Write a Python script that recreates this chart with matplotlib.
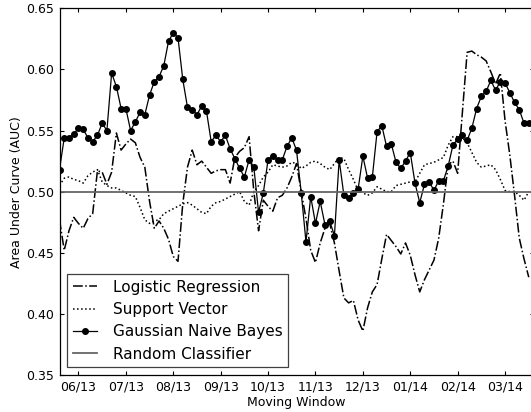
import numpy as np
import matplotlib
matplotlib.use('Agg')
import matplotlib.pyplot as plt

months = ['06/13', '07/13', '08/13', '09/13', '10/13', '11/13',
          '12/13', '01/14', '02/14', '03/14']
month_pos = [4, 14, 24, 34, 44, 54, 64, 74, 84, 94]

logistic = [0.477, 0.452, 0.468, 0.479, 0.474, 0.470, 0.478, 0.482, 0.517, 0.516,
            0.506, 0.516, 0.548, 0.534, 0.539, 0.543, 0.540, 0.528, 0.520, 0.492,
            0.470, 0.476, 0.470, 0.461, 0.447, 0.443, 0.490, 0.520, 0.534, 0.522,
            0.525, 0.520, 0.515, 0.517, 0.518, 0.518, 0.507, 0.528, 0.533, 0.536,
            0.545, 0.500, 0.468, 0.493, 0.488, 0.484, 0.495, 0.497, 0.503, 0.512,
            0.523, 0.500, 0.478, 0.452, 0.442, 0.458, 0.470, 0.474, 0.458, 0.435,
            0.413, 0.409, 0.411, 0.395, 0.386, 0.405, 0.418, 0.424, 0.445, 0.465,
            0.460, 0.455, 0.449, 0.458, 0.448, 0.432, 0.418, 0.428, 0.436, 0.444,
            0.462, 0.490, 0.522, 0.525, 0.515, 0.565, 0.614, 0.615, 0.612, 0.610,
            0.607, 0.598, 0.588, 0.597, 0.558, 0.530, 0.497, 0.462, 0.445, 0.430]

svm = [0.505, 0.511, 0.512, 0.510, 0.509, 0.507, 0.513, 0.516, 0.518, 0.508,
       0.505, 0.503, 0.503, 0.501, 0.499, 0.497, 0.496, 0.487, 0.477, 0.474,
       0.476, 0.477, 0.482, 0.484, 0.486, 0.488, 0.490, 0.491, 0.489, 0.486,
       0.483, 0.482, 0.488, 0.491, 0.492, 0.494, 0.496, 0.498, 0.500, 0.492,
       0.489, 0.500, 0.505, 0.512, 0.516, 0.522, 0.521, 0.520, 0.521, 0.524,
       0.523, 0.519, 0.521, 0.524, 0.525, 0.523, 0.520, 0.518, 0.523, 0.528,
       0.527, 0.518, 0.510, 0.501, 0.499, 0.497, 0.499, 0.504, 0.502, 0.500,
       0.500, 0.505, 0.506, 0.507, 0.508, 0.508, 0.515, 0.522, 0.523, 0.524,
       0.526, 0.528, 0.538, 0.545, 0.545, 0.544, 0.540, 0.532, 0.524, 0.520,
       0.521, 0.522, 0.518, 0.510, 0.501, 0.500, 0.500, 0.497, 0.493, 0.500]

gnb = [0.518, 0.544, 0.544, 0.547, 0.552, 0.551, 0.544, 0.541, 0.546, 0.556,
       0.550, 0.597, 0.586, 0.568, 0.568, 0.550, 0.557, 0.565, 0.563, 0.579,
       0.590, 0.594, 0.603, 0.623, 0.630, 0.626, 0.592, 0.569, 0.567, 0.563,
       0.570, 0.566, 0.541, 0.546, 0.541, 0.546, 0.535, 0.527, 0.519, 0.512,
       0.526, 0.520, 0.483, 0.499, 0.526, 0.529, 0.526, 0.526, 0.537, 0.544,
       0.534, 0.499, 0.459, 0.496, 0.474, 0.492, 0.473, 0.476, 0.464, 0.526,
       0.497, 0.495, 0.499, 0.502, 0.529, 0.511, 0.512, 0.549, 0.554, 0.537,
       0.539, 0.524, 0.519, 0.525, 0.532, 0.507, 0.491, 0.506, 0.508, 0.501,
       0.509, 0.509, 0.521, 0.538, 0.543, 0.546, 0.542, 0.552, 0.568, 0.578,
       0.582, 0.591, 0.583, 0.590, 0.589, 0.581, 0.573, 0.567, 0.556, 0.556]

random_auc = 0.5

x = np.arange(len(gnb))

fig = plt.figure(figsize=(5.31, 4.12), dpi=100)
ax = fig.add_axes([59.5 / 531, 37 / 412, 474 / 531, 366.7 / 412])

ax.plot(x, logistic, '-.', color='black', lw=1.1, label='Logistic Regression')
ax.plot(x, svm, ':', color='black', lw=1.1, label='Support Vector')
ax.plot(x, gnb, '-', color='black', lw=0.9, marker='o', markersize=4,
        label='Gaussian Naive Bayes')
ax.axhline(random_auc, color='0.4', lw=1.3, label='Random Classifier')

ax.set_xlim(0, 100)
ax.set_ylim(0.35, 0.65)
ax.set_xticks(month_pos)
ax.set_xticklabels(months)
ax.set_yticks(np.arange(0.35, 0.651, 0.05))
ax.set_yticklabels(['%.2f' % v for v in np.arange(0.35, 0.651, 0.05)])
ax.tick_params(direction='in', top=True, right=True, length=3, width=0.8,
               labelsize=9, pad=4)
for s in ax.spines.values():
    s.set_linewidth(0.9)

ax.set_xlabel('Moving Window', fontsize=9, labelpad=2)
ax.set_ylabel('Area Under Curve (AUC)', fontsize=9, labelpad=2)

leg = ax.legend(loc='lower left', fontsize=11, handlelength=1.6,
                handletextpad=1.0, labelspacing=0.48, borderpad=0.38,
                fancybox=False, framealpha=1, borderaxespad=0.5)
leg.get_frame().set_edgecolor('0.25')
leg.get_frame().set_linewidth(0.9)

fig.savefig('out.png', dpi=100)
